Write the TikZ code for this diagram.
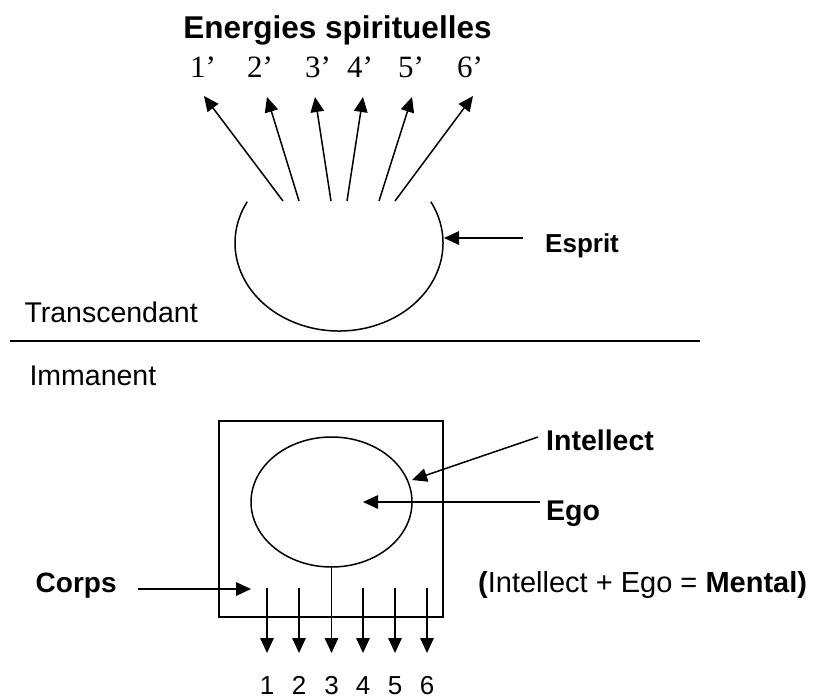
\documentclass[tikz,border=0pt]{standalone}
\usepackage{fontspec}
\setmainfont{Liberation Sans}
\newfontfamily\primefont{Liberation Serif}
\usetikzlibrary{arrows.meta,shapes.geometric}
\begin{document}
\begin{tikzpicture}[x=1pt,y=-1pt,
  lbl/.style={inner sep=0pt, anchor=base west},
  arr/.style={line width=1.5pt, -{Triangle[length=15pt,width=13.5pt]}},
  ln/.style={line width=1.5pt},
  prime/.style={inner sep=0pt, anchor=base west, font=\primefont\fontsize{31}{36}\selectfont},
  num/.style={inner sep=0pt, anchor=base, font=\fontsize{26}{30}\selectfont}]
\useasboundingbox (0,0) rectangle (813,698);
\fill[white] (0,0) rectangle (813,698);

% title and primed numbers
\node[inner sep=0pt, anchor=base, font=\bfseries\fontsize{31.5}{36}\selectfont] (title) at (337.5,39) {Energies spirituelles};
\node[prime] (p1) at (190,78) {1’};
\node[prime] (p2) at (247,78) {2’};
\node[prime] (p3) at (305,78) {3’};
\node[prime] (p4) at (347,78) {4’};
\node[prime] (p5) at (398,78) {5’};
\node[prime] (p6) at (457,78) {6’};

% spiritual energy arrows
\coordinate (s1) at (283,201); \coordinate (t1) at (204,96);
\coordinate (s2) at (299,201); \coordinate (t2) at (267,97);
\coordinate (s3) at (331,201); \coordinate (t3) at (315,97);
\coordinate (s4) at (347,201); \coordinate (t4) at (363,97);
\coordinate (s5) at (379,201); \coordinate (t5) at (412,97);
\coordinate (s6) at (395,201); \coordinate (t6) at (473,96);
\foreach \i in {1,...,6} \draw[arr] (s\i) -- (t\i);

% Esprit (ellipse open at the top)
\coordinate (espc) at (339,243);
\draw[ln] (247.2,201.7) arc[start angle=208, end angle=-28, x radius=104, y radius=88];
\coordinate (espa) at (523,238);
\coordinate (espt) at (444,238);
\draw[arr] (espa) -- (espt);
\node[lbl, font=\bfseries\fontsize{26}{30}\selectfont] (esprit) at (545,252) {Esprit};

% dividing line
\node[lbl, font=\fontsize{28.5}{32}\selectfont] (trans) at (24.3,322) {Transcendant};
\coordinate (hl) at (10,341); \coordinate (hr) at (700,341);
\draw[line width=2pt] (hl) -- (hr);
\node[lbl, font=\fontsize{28.5}{32}\selectfont] (imm) at (29.3,385) {Immanent};

% body box and mind ellipse
\node[draw, line width=1.6pt, rectangle, minimum width=224pt, minimum height=196pt, inner sep=0pt] (box) at (331,519) {};
\node[draw, line width=1.5pt, ellipse, minimum width=161pt, minimum height=130pt, inner sep=0pt] (ego) at (331.5,502) {};

% Intellect / Ego labels and arrows
\node[lbl, font=\bfseries\fontsize{28.5}{32}\selectfont] (intel) at (546,450) {Intellect};
\node[lbl, font=\bfseries\fontsize{28.5}{32}\selectfont] (egol) at (546,520) {Ego};
\coordinate (ia) at (538,437); \coordinate (it) at (412,480);
\draw[arr] (ia) -- (it);
\coordinate (ga) at (540,502); \coordinate (gt) at (363,502);
\draw[arr] (ga) -- (gt);
\node[lbl, font=\fontsize{29}{32}\selectfont] (mental) at (478,592) {\textbf{(}Intellect + Ego = \textbf{Mental)}};

% Corps
\node[lbl, font=\bfseries\fontsize{28}{32}\selectfont] (corps) at (35.5,592) {Corps};
\coordinate (ca) at (138,589); \coordinate (ct) at (251,589);
\draw[arr] (ca) -- (ct);

% downward arrows and numbers
\coordinate (d1) at (267,588); \coordinate (e1) at (267,653);
\coordinate (d2) at (299,588); \coordinate (e2) at (299,653);
\coordinate (e3) at (331.5,653);
\coordinate (d4) at (363,588); \coordinate (e4) at (363,653);
\coordinate (d5) at (395,588); \coordinate (e5) at (395,653);
\coordinate (d6) at (427,588); \coordinate (e6) at (427,653);
\foreach \i in {1,2,4,5,6} \draw[arr] (d\i) -- (e\i);
\draw[arr] (ego.south) -- (e3);
\node[num] (n1) at (267,694) {1};
\node[num] (n2) at (299,694) {2};
\node[num] (n3) at (331.5,694) {3};
\node[num] (n4) at (363,694) {4};
\node[num] (n5) at (395,694) {5};
\node[num] (n6) at (427,694) {6};
\end{tikzpicture}
\end{document}
